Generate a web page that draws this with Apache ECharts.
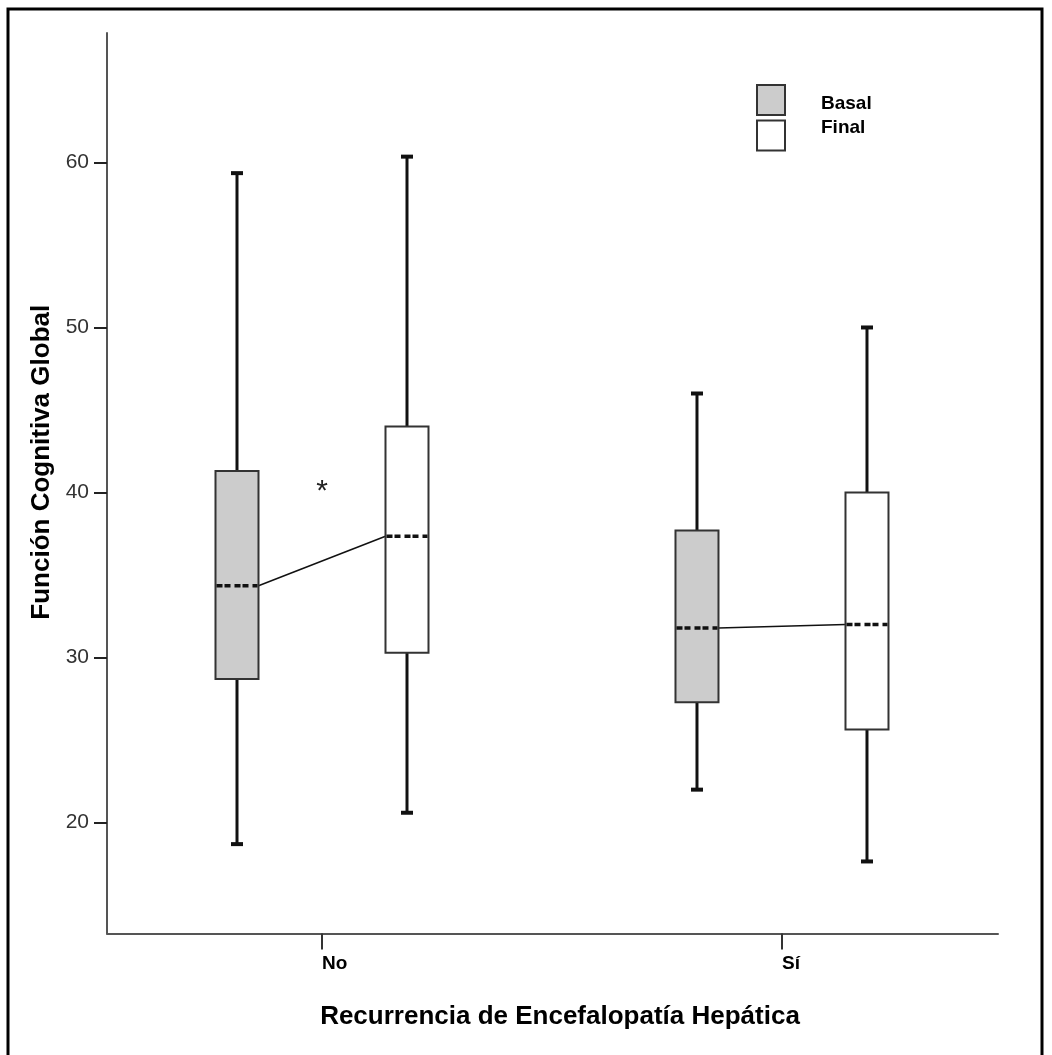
<!DOCTYPE html>
<html>
<head>
<meta charset="utf-8">
<script src="https://cdn.jsdelivr.net/npm/echarts@6/dist/echarts.min.js"></script>
<style>
  html, body { margin: 0; padding: 0; background: #fff; }
  #boxchart { width: 1052px; height: 1055px; }
</style>
</head>
<body>
<div id="boxchart"></div>
<script>
// categorias del eje X
var categories = ['No', 'Sí'];
// [min, Q1, mediana, Q3, max] por categoria
var basal = [
    [18.7, 28.7, 34.35, 41.3, 59.35],
    [22.0, 27.3, 31.8, 37.7, 46.0]
];
var final = [
    [20.6, 30.3, 37.35, 44.0, 60.35],
    [17.65, 25.65, 32.0, 40.0, 50.0]
];
// asterisco (categoria, valor)
var asterisk = [[0, 40.3]];
var yTicks = [20, 30, 40, 50, 60];

var BOX_W = 43;
var SHIFT = 85;

function toRows(arr) {
    return arr.map(function (d, i) { return [i].concat(d); });
}

function boxRenderer(shift) {
    return function (params, api) {
        var cx = api.coord([api.value(0), api.value(3)])[0] + shift;
        var yLow = api.coord([0, api.value(1)])[1];
        var yQ1 = api.coord([0, api.value(2)])[1];
        var yMed = api.coord([0, api.value(3)])[1];
        var yQ3 = api.coord([0, api.value(4)])[1];
        var yHigh = api.coord([0, api.value(5)])[1];
        var hw = BOX_W / 2;
        var st = api.style();
        var whisk = { stroke: '#111', lineWidth: 3 };
        var cap = { stroke: '#111', lineWidth: 4 };
        return {
            type: 'group',
            children: [
                { type: 'line', shape: { x1: cx, y1: yQ3, x2: cx, y2: yHigh }, style: whisk },
                { type: 'line', shape: { x1: cx, y1: yQ1, x2: cx, y2: yLow }, style: whisk },
                { type: 'line', shape: { x1: cx - 6, y1: yHigh, x2: cx + 6, y2: yHigh }, style: cap },
                { type: 'line', shape: { x1: cx - 6, y1: yLow, x2: cx + 6, y2: yLow }, style: cap },
                { type: 'rect', shape: { x: cx - hw, y: yQ3, width: BOX_W, height: yQ1 - yQ3 },
                  style: { fill: st.fill, stroke: '#333', lineWidth: 2 } },
                { type: 'line', shape: { x1: cx - hw + 1, y1: yMed, x2: cx + hw - 1, y2: yMed },
                  style: { stroke: '#111', lineWidth: 3.5, lineDash: [6, 2, 6, 4] } }
            ]
        };
    };
}

var medians = basal.map(function (d, i) { return [i, d[2], final[i][2]]; });

var myChart = echarts.init(document.getElementById('boxchart'));
var option = {
    animation: false,
    backgroundColor: '#fff',
    textStyle: { fontFamily: 'Liberation Sans, Arial, sans-serif' },
    grid: { left: 107, right: 54, top: 33, bottom: 121.5 },
    legend: {
        orient: 'vertical',
        left: 756,
        top: 84,
        padding: 0,
        itemWidth: 28,
        itemHeight: 30,
        itemGap: 2,
        icon: 'rect',
        selectedMode: false,
        formatter: function (name) {
            return name === 'Basal' ? '{b|' + name + '}' : '{f|' + name + '}';
        },
        textStyle: {
            fontSize: 19, fontWeight: 'bold', color: '#000',
            rich: {
                b: { fontSize: 19, fontWeight: 'bold', color: '#000', padding: [8, 0, 0, 31] },
                f: { fontSize: 19, fontWeight: 'bold', color: '#000', padding: [0, 0, 16, 31] }
            }
        },
        data: [
            { name: 'Basal', itemStyle: { color: '#cccccc', borderColor: '#333', borderWidth: 2 } },
            { name: 'Final', itemStyle: { color: '#ffffff', borderColor: '#333', borderWidth: 2 } }
        ]
    },
    xAxis: {
        type: 'value',
        min: -0.4674,
        max: 1.4696,
        name: 'Recurrencia de Encefalopatía Hepática',
        nameLocation: 'middle',
        nameGap: 70,
        nameTextStyle: { fontSize: 26, fontWeight: 'bold', color: '#000', padding: [0, 0, 0, 15] },
        splitLine: { show: false },
        axisLine: { lineStyle: { color: '#555', width: 2 } },
        axisTick: { customValues: [0, 1], length: 16, lineStyle: { color: '#333', width: 2 } },
        axisLabel: {
            customValues: [0, 1],
            formatter: function (v) { return categories[Math.round(v)]; },
            align: 'left',
            margin: 21,
            fontSize: 19,
            fontWeight: 'bold',
            color: '#000'
        }
    },
    yAxis: {
        type: 'value',
        min: 13.285,
        max: 67.84,
        name: 'Función Cognitiva Global',
        nameLocation: 'middle',
        nameGap: 50,
        nameTextStyle: { fontSize: 26, fontWeight: 'bold', color: '#000', padding: [0, 0, 0, 42] },
        splitLine: { show: false },
        axisLine: { show: true, onZero: false, lineStyle: { color: '#555', width: 2 } },
        axisTick: { show: true, customValues: yTicks, length: 13, lineStyle: { color: '#222', width: 2 } },
        axisLabel: { customValues: yTicks, margin: 18, fontSize: 21, color: '#333' }
    },
    series: [
        {
            name: 'Basal',
            type: 'custom',
            itemStyle: { color: '#cccccc', borderColor: '#333', borderWidth: 2 },
            encode: { x: 0, y: [1, 2, 3, 4, 5] },
            renderItem: boxRenderer(-SHIFT),
            data: toRows(basal),
            z: 3
        },
        {
            name: 'Final',
            type: 'custom',
            itemStyle: { color: '#ffffff', borderColor: '#333', borderWidth: 2 },
            encode: { x: 0, y: [1, 2, 3, 4, 5] },
            renderItem: boxRenderer(SHIFT),
            data: toRows(final),
            z: 3
        },
        {
            name: 'medianas',
            type: 'custom',
            encode: { x: 0, y: [1, 2] },
            renderItem: function (params, api) {
                var a = api.coord([api.value(0), api.value(1)]);
                var b = api.coord([api.value(0), api.value(2)]);
                return {
                    type: 'line',
                    shape: { x1: a[0] - SHIFT + BOX_W / 2, y1: a[1], x2: b[0] + SHIFT - BOX_W / 2, y2: b[1] },
                    style: { stroke: '#111', lineWidth: 1.5 }
                };
            },
            data: medians,
            z: 2
        },
        {
            name: 'asterisco',
            type: 'custom',
            encode: { x: 0, y: 1 },
            renderItem: function (params, api) {
                var p = api.coord([api.value(0), api.value(1)]);
                return {
                    type: 'text',
                    x: p[0], y: p[1] + 4,
                    style: { text: '*', fontSize: 30, fill: '#222', align: 'center', verticalAlign: 'middle',
                             fontFamily: 'Liberation Sans, Arial, sans-serif' }
                };
            },
            data: asterisk,
            z: 3
        }
    ],
    graphic: [
        {
            type: 'rect',
            shape: { x: 8, y: 9, width: 1034, height: 1100 },
            style: { fill: 'none', stroke: '#000', lineWidth: 3 },
            silent: true
        }
    ]
};

myChart.setOption(option);
</script>
</body>
</html>
